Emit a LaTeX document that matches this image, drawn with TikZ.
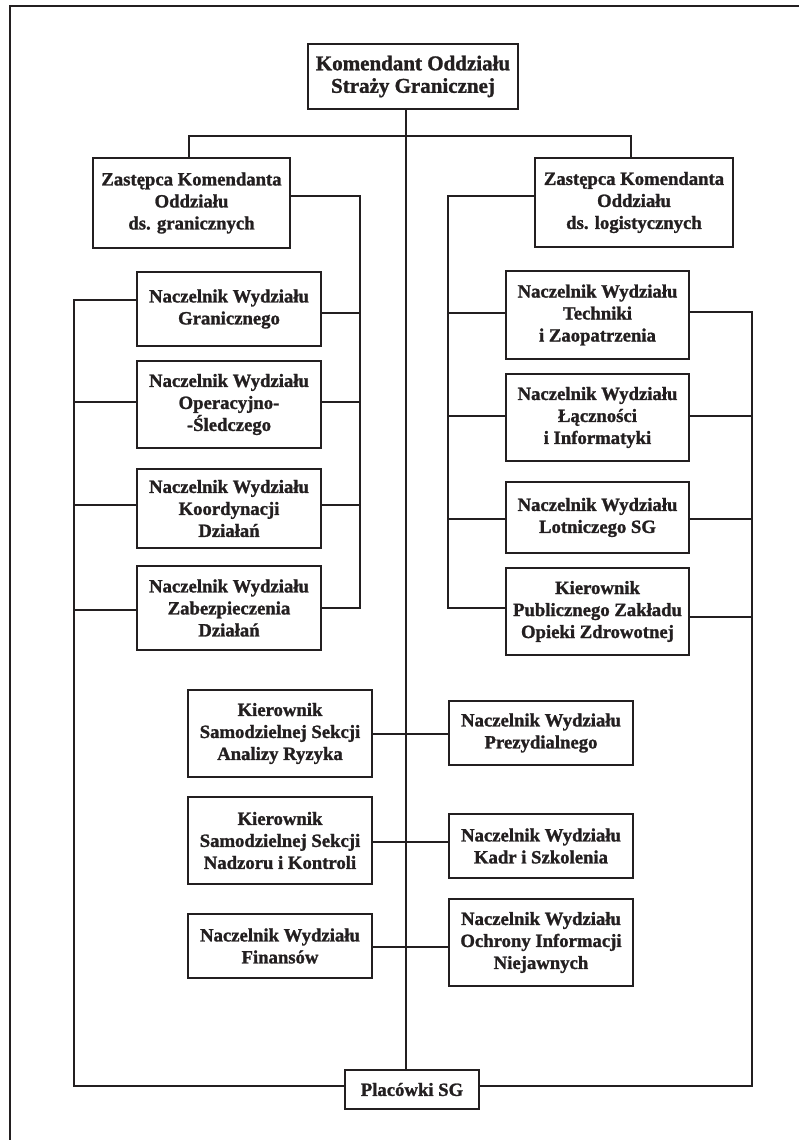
\documentclass[tikz,border=0pt]{standalone}
\usepackage{fontspec}
\setmainfont{Liberation Serif}
\newfontfamily\boldserif[FakeBold=1.3]{Liberation Serif Bold}
\definecolor{ink}{RGB}{35,31,32}
\begin{document}
\begin{tikzpicture}[x=1pt,y=-1pt,
  box/.style={draw=ink, line width=1.8pt, fill=white, inner sep=0pt, align=center,
    text=ink, font=\boldserif\fontsize{18.7}{22}\selectfont},
  topbox/.style={box, font=\boldserif\fontsize{21}{22.5}\selectfont},
  conn/.style={draw=ink, line width=1.5pt},
  frame/.style={draw=ink, line width=2pt}]
\useasboundingbox (0,0) rectangle (799,1140);
% frame
\coordinate (fbl) at (10,1140);
\coordinate (ftl) at (10,6);
\coordinate (ftr) at (799,6);
\draw[frame] (fbl) -- (ftl) -- (ftr);

% nodes
\node[topbox, minimum width=210pt, minimum height=65pt] (top) at (413,76.5) {Komendant Oddziału\\Straży Granicznej};
\node[box, minimum width=197pt, minimum height=90pt] (D1) at (191.5,203) {Zastępca Komendanta\\Oddziału\\ds. granicznych};
\node[box, minimum width=198pt, minimum height=89pt] (D2) at (634,202.5) {Zastępca Komendanta\\Oddziału\\ds. logistycznych};

\node[box, minimum width=184pt, minimum height=74pt] (L1) at (229,309) {Naczelnik Wydziału\\Granicznego};
\node[box, minimum width=184pt, minimum height=87pt] (L2) at (229,404.5) {Naczelnik Wydziału\\Operacyjno-\\-Śledczego};
\node[box, minimum width=184pt, minimum height=79pt] (L3) at (229,508.5) {Naczelnik Wydziału\\Koordynacji\\Działań};
\node[box, minimum width=184pt, minimum height=84pt] (L4) at (229,608) {Naczelnik Wydziału\\Zabezpieczenia\\Działań};

\node[box, minimum width=183pt, minimum height=88pt] (R1) at (597.5,315) {Naczelnik Wydziału\\Techniki\\i Zaopatrzenia};
\node[box, minimum width=183pt, minimum height=87pt] (R2) at (597.5,417.5) {Naczelnik Wydziału\\Łączności\\i Informatyki};
\node[box, minimum width=183pt, minimum height=71pt] (R3) at (597.5,517.5) {Naczelnik Wydziału\\Lotniczego SG};
\node[box, minimum width=183pt, minimum height=87pt] (R4) at (597.5,611.5) {Kierownik\\Publicznego Zakładu\\Opieki Zdrowotnej};

\node[box, minimum width=184pt, minimum height=87pt] (M1) at (280,733.5) {Kierownik\\Samodzielnej Sekcji\\Analizy Ryzyka};
\node[box, minimum width=184pt, minimum height=64pt] (P1) at (541,733) {Naczelnik Wydziału\\Prezydialnego};
\node[box, minimum width=184pt, minimum height=87pt] (M2) at (280,840.5) {Kierownik\\Samodzielnej Sekcji\\Nadzoru i Kontroli};
\node[box, minimum width=184pt, minimum height=64pt] (P2) at (541,846) {Naczelnik Wydziału\\Kadr i Szkolenia};
\node[box, minimum width=184pt, minimum height=64pt] (M3) at (280,946) {Naczelnik Wydziału\\Finansów};
\node[box, minimum width=184pt, minimum height=87pt] (P3) at (541,942.5) {Naczelnik Wydziału\\Ochrony Informacji\\Niejawnych};

\node[box, minimum width=134pt, minimum height=39pt] (plac) at (412,1089.5) {Placówki SG};

% helper coordinates
\coordinate (spine) at (406,0);
\coordinate (hl) at (189,136);
\coordinate (hr) at (631,136);
\coordinate (lcx) at (360,608);
\coordinate (rcx) at (448,608);

% spine
\draw[conn] (top.south -| spine) -- (plac.north -| spine);
% deputies
\draw[conn] (D1.north -| hl) -- (hl) -- (hr) -- (D2.north -| hr);

% left column: right bracket from D1
\draw[conn] ([yshift=7pt]D1.east) -| (lcx) -- (L4.east);
\draw[conn] ([yshift=-4pt]L1.east) -- ++(39,0);
\draw[conn] ([yshift=2.5pt]L2.east) -- ++(39,0);
\draw[conn] ([yshift=3.5pt]L3.east) -- ++(39,0);
% left column: outer bracket to Placowki
\draw[conn] ([yshift=9pt]L1.west) -- ++(-62,0) |- ([yshift=3.5pt]plac.west);
\draw[conn] ([yshift=2.5pt]L2.west) -- ++(-62,0);
\draw[conn] ([yshift=3.5pt]L3.west) -- ++(-62,0);
\draw[conn] ([yshift=-2pt]L4.west) -- ++(-62,0);

% right column: left bracket from D2
\draw[conn] ([yshift=6.5pt]D2.west) -| (rcx) -- ([yshift=3.5pt]R4.west);
\draw[conn] ([yshift=2pt]R1.west) -- ++(-58,0);
\draw[conn] ([yshift=1.5pt]R2.west) -- ++(-58,0);
\draw[conn] ([yshift=-1.5pt]R3.west) -- ++(-58,0);
% right column: outer bracket to Placowki
\draw[conn] ([yshift=3pt]R1.east) -- ++(62,0) |- ([yshift=3.5pt]plac.east);
\draw[conn] ([yshift=1.5pt]R2.east) -- ++(62,0);
\draw[conn] ([yshift=-1.5pt]R3.east) -- ++(62,0);
\draw[conn] ([yshift=-5.5pt]R4.east) -- ++(62,0);

% middle pairs
\draw[conn] ([yshift=-0.5pt]M1.east) -- ([yshift=-0.5pt]M1.east -| P1.west);
\draw[conn] ([yshift=-1.5pt]M2.east) -- ([yshift=-1.5pt]M2.east -| P2.west);
\draw[conn] ([yshift=-1pt]M3.east) -- ([yshift=-1pt]M3.east -| P3.west);
\end{tikzpicture}
\end{document}
